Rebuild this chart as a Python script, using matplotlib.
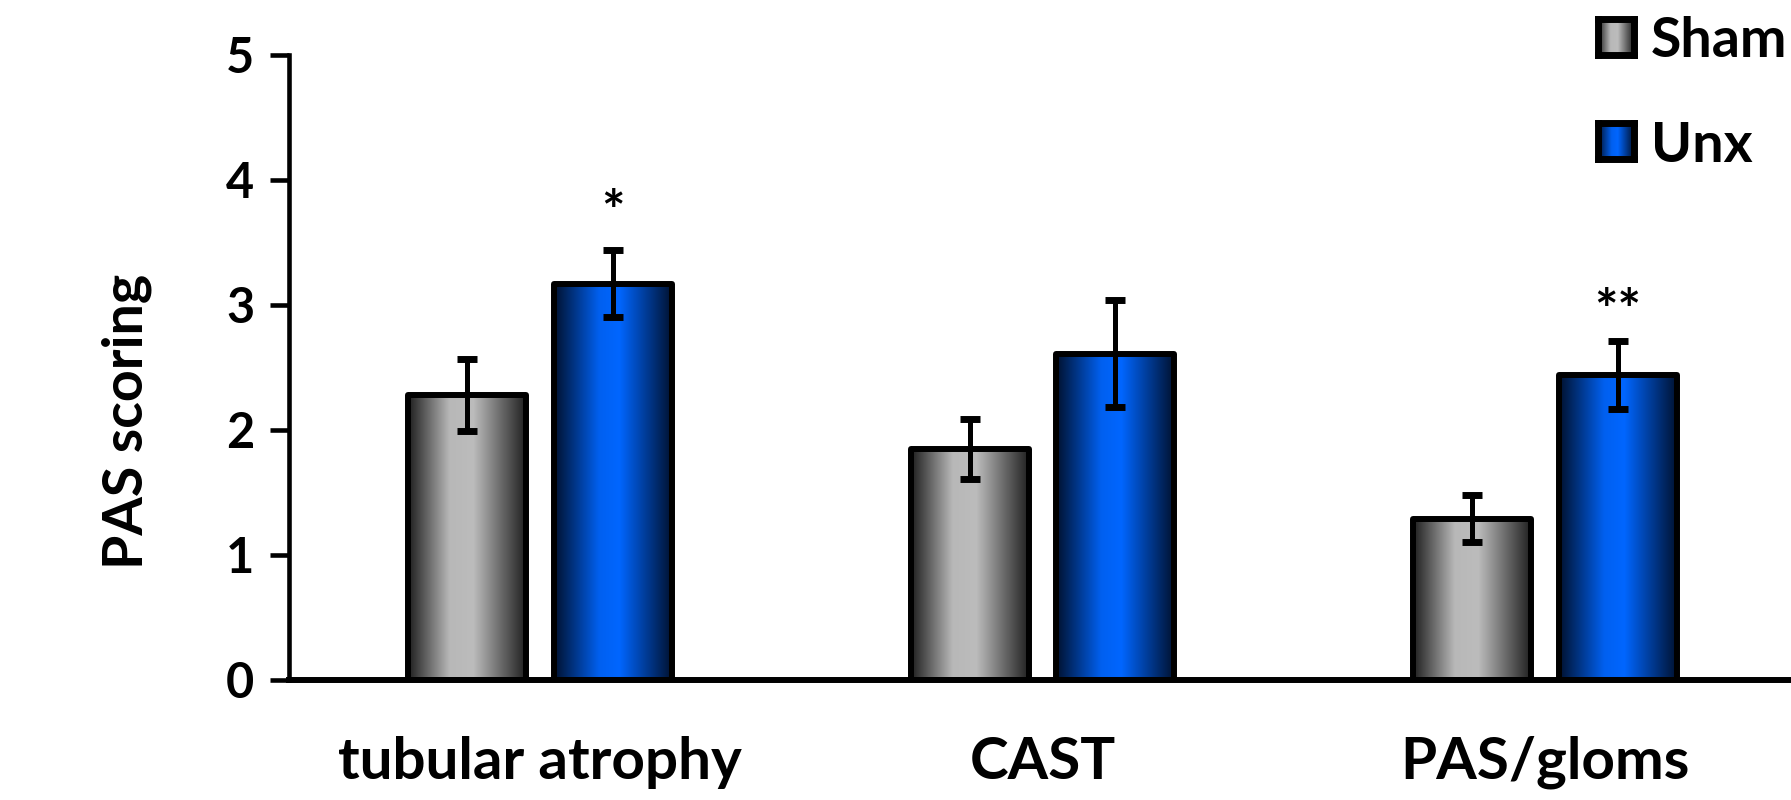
import numpy as np
import matplotlib
matplotlib.use("Agg")
import matplotlib.pyplot as plt
from matplotlib.colors import LinearSegmentedColormap

plt.rcParams['font.family'] = ['Lato', 'DejaVu Sans']
plt.rcParams['font.weight'] = 'bold'

categories = ['tubular atrophy', 'CAST', 'PAS/gloms']
series = ['Sham', 'Unx']
sham_vals = [2.28, 1.85, 1.29]
sham_err = [0.29, 0.24, 0.19]
unx_vals = [3.17, 2.61, 2.44]
unx_err = [0.27, 0.43, 0.27]
unx_stars = ['*', '', '**']
star_y = [3.86, None, 3.07]
yticks = [0, 1, 2, 3, 4, 5]

gray_cmap = LinearSegmentedColormap.from_list(
    'g', [(0, '#1e1e1e'), (0.35, '#b8b8b8'), (0.55, '#bcbcbc'), (1, '#1e1e1e')])
blue_cmap = LinearSegmentedColormap.from_list(
    'b', [(0, '#00112e'), (0.38, '#0060f0'), (0.55, '#0066ff'), (1, '#00112e')])
grad = np.linspace(0, 1, 256).reshape(1, -1)

fig = plt.figure(figsize=(17.91, 8), dpi=100)
ax = fig.add_axes([0.1614, 0.15, 0.8386, 0.7815])

x = np.arange(len(categories))
w = 0.235
off = 0.145


def gradient_bars(xs, vals, errs, cmap):
    bars = ax.bar(xs, vals, w, facecolor='none', edgecolor='black',
                  linewidth=4.3, zorder=3, joinstyle='round')
    for b in bars:
        im = ax.imshow(grad, cmap=cmap, aspect='auto', zorder=2,
                       extent=[b.get_x(), b.get_x() + b.get_width(), 0, b.get_height()])
        im.set_clip_path(b)
    ax.errorbar(xs, vals, yerr=errs, fmt='none', ecolor='black', elinewidth=3.6,
                capsize=7, capthick=5, zorder=4)


gradient_bars(x - off, sham_vals, sham_err, gray_cmap)
gradient_bars(x + off, unx_vals, unx_err, blue_cmap)

# significance marks (asterisk glyph sits high, so nudge it down)
for xi, sy, s in zip(x + off, star_y, unx_stars):
    if s:
        ax.annotate(s, (xi, sy), xytext=(0, -12), textcoords='offset points',
                    ha='center', va='center', fontsize=40, fontweight='bold')

ax.set_xlim(-0.5, 2.49)
ax.set_ylim(0, 5)
ax.set_yticks(yticks)
ax.set_xticks(x)
ax.set_xticklabels(categories, fontsize=42, fontweight='bold')
ax.tick_params(axis='x', length=0, pad=40)
ax.tick_params(axis='y', length=14, width=3.3, pad=11, labelsize=35, direction='out')
for lab in ax.get_yticklabels():
    lab.set_fontweight('bold')
ax.spines['top'].set_visible(False)
ax.spines['right'].set_visible(False)
ax.spines['left'].set_linewidth(3.3)
ax.spines['bottom'].set_linewidth(4.3)
ax.set_ylabel('PAS scoring', fontsize=40, fontweight='bold')
ax.yaxis.set_label_coords(-0.091, 0.413)

# legend boxes
for name, cmap, top, base in zip(series, [gray_cmap, blue_cmap], [19, 123], [57, 162]):
    lax = fig.add_axes([1598 / 1791, 1 - (top + 36) / 800, 36 / 1791, 36 / 800])
    lax.imshow(grad, cmap=cmap, aspect='auto')
    lax.set_xticks([])
    lax.set_yticks([])
    for sp in lax.spines.values():
        sp.set_linewidth(5)
    fig.text(1651 / 1791, 1 - base / 800, name, fontsize=40, fontweight='bold',
             va='baseline', ha='left')

fig.savefig('out.png', dpi=100)
